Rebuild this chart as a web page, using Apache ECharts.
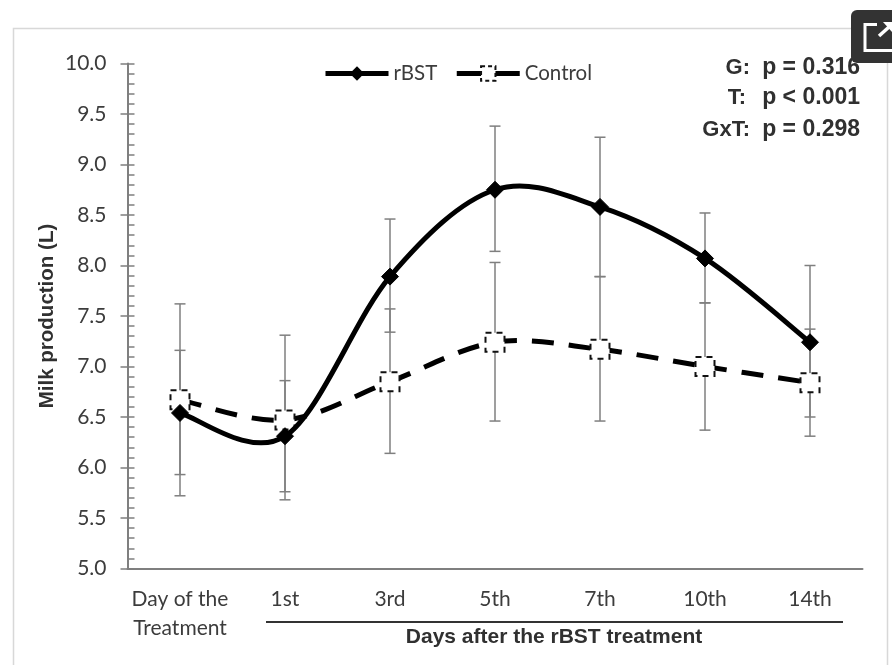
<!DOCTYPE html>
<html><head><meta charset="utf-8">
<style>html,body{margin:0;padding:0;background:#fff}#c{width:892px;height:665px}</style>
<script src="https://cdn.jsdelivr.net/npm/echarts@6/dist/echarts.min.js"></script>
</head><body><div id="c"></div>
<script>
const categories = ['Day of the\nTreatment','1st','3rd','5th','7th','10th','14th'];
const rbst = [6.54,6.31,7.89,8.75,8.58,8.07,7.24];
const control = [6.67,6.47,6.85,7.24,7.17,7.0,6.84];
const rbstUpper = [7.16,6.86,8.46,9.38,9.27,8.52,8.0];
const rbstLower = [5.93,5.76,7.34,8.14,7.89,7.63,6.5];
const controlUpper = [7.62,7.31,7.57,8.03,7.89,7.63,7.37];
const controlLower = [5.72,5.68,6.14,6.46,6.46,6.37,6.31];
const yTicks = {min:5, max:10, step:0.5};
const stats = [['G:','p = 0.316'],['T:','p < 0.001'],['GxT:','p = 0.298']];
const sans = 'Lato', bold = '"Liberation Sans"', gray = '#7f7f7f', txt = '#3c3c3c';

const errData = [];
categories.forEach((c,i)=>{
  errData.push([i,rbstLower[i],rbstUpper[i]]);
  errData.push([i,controlLower[i],controlUpper[i]]);
});
const style = {stroke:gray, lineWidth:1.5};
function renderErr(p,api){
  const x=api.value(0), lo=api.coord([x,api.value(1)]), hi=api.coord([x,api.value(2)]);
  const mk=(a,b,c,d)=>({type:'line',shape:{x1:a,y1:b,x2:c,y2:d},style});
  return {type:'group',children:[mk(lo[0],lo[1],hi[0],hi[1]),mk(lo[0]-5.5,lo[1],lo[0]+5.5,lo[1]),mk(hi[0]-5.5,hi[1],hi[0]+5.5,hi[1])]};
}
// Spreadsheet-style smoothed line: each data item draws the segment to its successor.
function curveRenderer(values, strokeStyle){
  return function(p,api){
    const i=p.dataIndex;
    if(i>=values.length-1) return null;
    const pt=k=>{const j=Math.max(0,Math.min(values.length-1,k));return api.coord([j,values[j]]);};
    const p0=pt(i-1),p1=pt(i),p2=pt(i+1),p3=pt(i+2);
    return {type:'bezierCurve',shape:{x1:p1[0],y1:p1[1],x2:p2[0],y2:p2[1],
      cpx1:p1[0]+(p2[0]-p0[0])/6,cpy1:p1[1]+(p2[1]-p0[1])/6,
      cpx2:p2[0]-(p3[0]-p1[0])/6,cpy2:p2[1]-(p3[1]-p1[1])/6},
      style:Object.assign({fill:'none',stroke:'#000',lineWidth:5},strokeStyle)};
  };
}
const statEnds=[750,746,750];
const statEls=[];
stats.forEach((s,i)=>{
  const y=[68,98,130][i];
  const base={fill:'#303030',align:'right',verticalAlign:'middle'};
  statEls.push({type:'text',x:statEnds[i],y,style:Object.assign({text:s[0],font:'bold 22px '+bold},base)});
  statEls.push({type:'text',x:860,y,style:Object.assign({text:s[1],font:'bold 23px '+bold},base)});
});
const chart=echarts.init(document.getElementById('c'),null,{renderer:'canvas'});
chart.setOption({
  animation:false, backgroundColor:'#fff',
  grid:{left:127.5,right:29.5,top:63.5,bottom:96.5},
  legend:{left:318,top:58,itemWidth:63,itemHeight:18,itemGap:17,
    textStyle:{fontFamily:sans,fontSize:20.5,color:txt},
    data:[{name:'rBST',lineStyle:{opacity:1,width:5,color:'#000'}},
          {name:'Control',lineStyle:{opacity:1,width:5,color:'#000',type:'solid'},
           itemStyle:{borderType:[4,3],borderWidth:2}}]},
  xAxis:{type:'category',data:categories,
    axisLine:{lineStyle:{color:gray,width:2}},axisTick:{show:false},
    axisLabel:{fontFamily:sans,fontSize:21,color:txt,margin:16,lineHeight:29,verticalAlign:'top',interval:0}},
  yAxis:[{type:'value',min:yTicks.min,max:yTicks.max,interval:yTicks.step,
    axisLine:{show:true,lineStyle:{color:gray,width:2}},
    axisTick:{show:true,inside:true,length:7,lineStyle:{color:gray,width:1.5}},
    minorTick:{show:true,splitNumber:5,length:7,lineStyle:{color:gray,width:1.5}},
    splitLine:{show:false},
    axisLabel:{fontFamily:sans,fontSize:21,color:txt,margin:21,formatter:v=>v.toFixed(1)},
  },{type:'value',position:'left',min:yTicks.min,max:yTicks.max,interval:yTicks.step,
    axisLine:{show:false},axisTick:{show:true,inside:false,length:7,lineStyle:{color:gray,width:1.5}},
    splitLine:{show:false},axisLabel:{show:false}}],
  series:[
    {name:'errors',type:'custom',renderItem:renderErr,data:errData,z:1,encode:{x:0,y:[1,2]},silent:true},
    {name:'Control curve',type:'custom',renderItem:curveRenderer(control,{lineDash:[22,15]}),data:control.map((v,i)=>[i,v]),z:2,encode:{x:0,y:1},silent:true},
    {name:'Control',type:'line',data:control,z:3,symbol:'rect',symbolSize:19,
      lineStyle:{opacity:0},
      itemStyle:{color:'#fff',borderColor:'#111',borderWidth:2,borderType:[6,5]}},
    {name:'rBST curve',type:'custom',renderItem:curveRenderer(rbst,{}),data:rbst.map((v,i)=>[i,v]),z:4,encode:{x:0,y:1},silent:true},
    {name:'rBST',type:'line',data:rbst,z:5,symbol:'diamond',symbolSize:17,
      lineStyle:{opacity:0},itemStyle:{color:'#000',borderColor:'#000'}}
  ],
  graphic:[
    {type:'rect',z:-1,shape:{x:13.5,y:28.5,width:874,height:650},style:{fill:'#fff',stroke:'#d8d8d8',lineWidth:1.5}},
    {type:'text',x:47,y:316,rotation:Math.PI/2,style:{text:'Milk production (L)',font:'bold 20.5px '+bold,fill:'#303030',align:'center',verticalAlign:'middle'}},
    {type:'line',shape:{x1:266,y1:622,x2:843,y2:622},style:{stroke:'#333',lineWidth:2}},
    {type:'text',x:554,y:637,style:{text:'Days after the rBST treatment',font:'bold 21px '+bold,fill:'#303030',align:'center',verticalAlign:'middle'}},
    ...statEls,
    {type:'rect',z:50,shape:{x:851,y:10,width:60,height:53,r:6},style:{fill:'#333'}},
    {type:'rect',z:51,shape:{x:865,y:24.5,width:35,height:26},style:{fill:'none',stroke:'#fff',lineWidth:3}},
    {type:'rect',z:52,shape:{x:877,y:18,width:20,height:15},style:{fill:'#333'}},
    {type:'polyline',z:53,shape:{points:[[879,36],[889,27]]},style:{stroke:'#fff',lineWidth:3.5,fill:'none'}},
    {type:'polygon',z:53,shape:{points:[[883,22],[892,22],[892,32]]},style:{fill:'#fff'}}
  ]
});
</script></body></html>
